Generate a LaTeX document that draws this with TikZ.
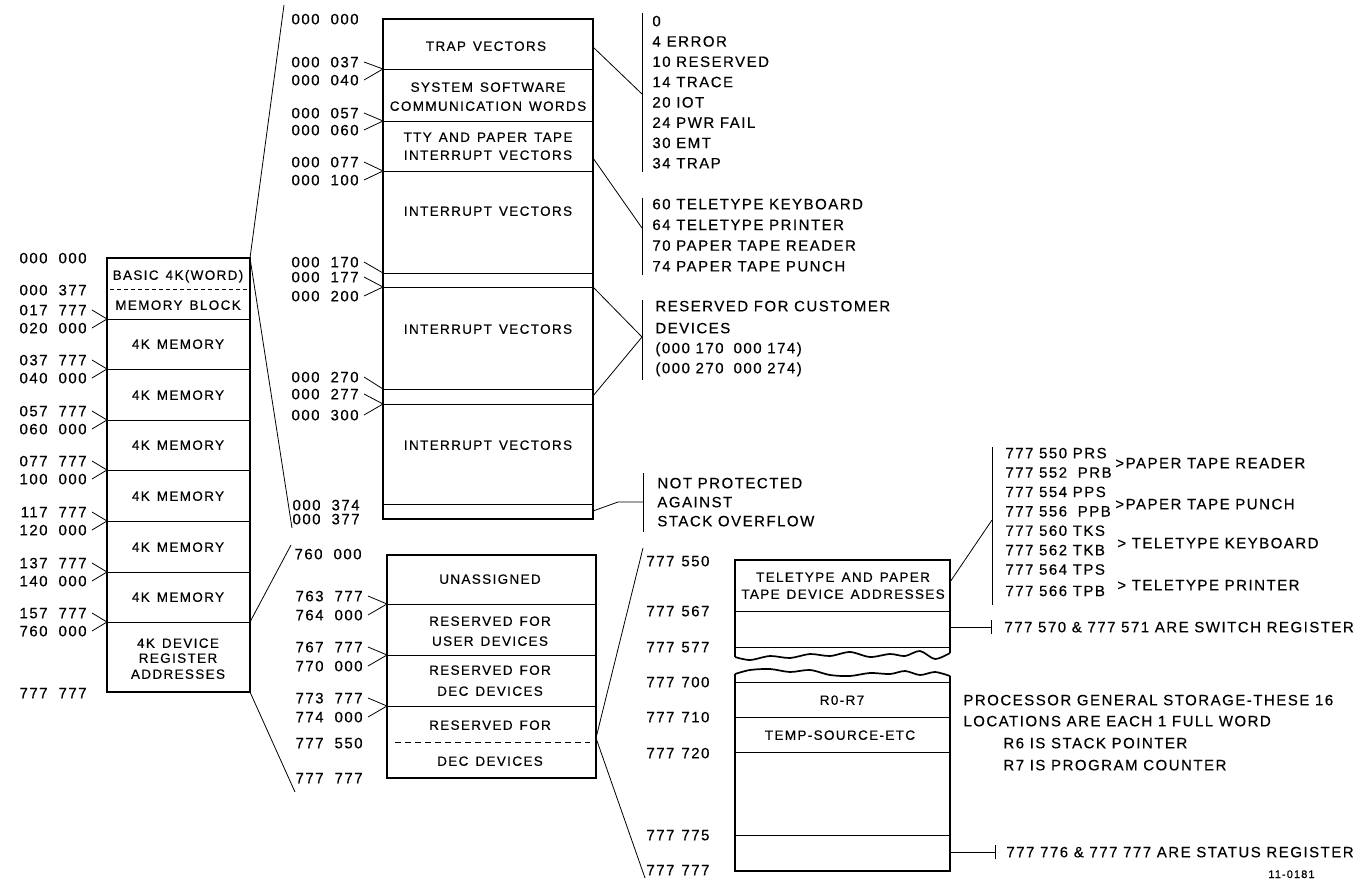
\documentclass[tikz,border=0pt]{standalone}
\usepackage{fontspec}
\setmainfont[LetterSpace=10,FakeBold=0.4]{Liberation Sans}

\begin{document}
\begin{tikzpicture}[x=1pt, y=-1pt, line width=0.8pt]
    \tikzstyle{frame}=[line width=1.7pt]
    \tikzstyle{cell}=[inner sep=0pt, text height=9.6pt, text depth=0pt, font=\fontsize{13.5}{16}\selectfont, execute at begin node={\spaceskip=7pt\relax}]
    \tikzstyle{addr}=[inner sep=0pt, text height=10.6pt, text depth=0pt, anchor=east, font=\fontsize{15}{17}\selectfont, execute at begin node={\spaceskip=11pt\relax}]
    \tikzstyle{note}=[inner sep=0pt, text height=10.6pt, text depth=0pt, anchor=west, font=\fontsize{15}{17}\selectfont]
    \useasboundingbox (0,0) rectangle (1368,881);

    % main memory
    \coordinate (mem nw) at (107,258);
    \coordinate (mem ne) at (250,258);
    \coordinate (mem dev) at (250,622);
    \coordinate (mem se) at (250,692);
    \draw[frame] (mem nw) rectangle (mem se);
    \foreach \y in {319,369,420,470,521,572,622}
        \draw (107,\y) -- (250,\y);
    \draw[dash pattern=on 4pt off 3pt] (110,289) -- (247,289);
    \node[cell] (basic) at (178,275) {BASIC 4K(WORD)};
    \node[cell] (block) at (178,305) {MEMORY BLOCK};
    \foreach \y [count=\i] in {344,395,445,496,547,597}
        \node[cell] (four\i) at (178,\y) {4K MEMORY};
    \node[cell] (dev1) at (178,643) {4K DEVICE};
    \node[cell] (dev2) at (178,658) {REGISTER};
    \node[cell] (dev3) at (178,674) {ADDRESSES};

    \node[addr] (m0) at (87,258) {000 000};
    \node[addr] (m1) at (87,290) {000 377};
    \node[addr] (m9) at (87,693) {777 777};
    \foreach \y/\a/\b [count=\i] in {319/017 777/020 000, 369/037 777/040 000,
            420/057 777/060 000, 470/077 777/100 000, 521/117 777/120 000,
            572/137 777/140 000, 622/157 777/760 000} {
        \coordinate (ms\i) at (107,\y);
        \node[addr] (mu\i) at (87,\y-9) {\a};
        \node[addr] (md\i) at (87,\y+9) {\b};
        \draw ([xshift=5pt]mu\i.east) -- (ms\i);
        \draw ([xshift=5pt]md\i.east) -- (ms\i);
    }

    % low memory: vectors
    \draw[frame] (383,19) rectangle (593,519);
    \foreach \y in {69,121,171,273,287,389,404,504}
        \draw (383,\y) -- (593,\y);
    \node[cell] (trapv) at (486,46) {TRAP VECTORS};
    \node[cell] (sys1) at (488,87) {SYSTEM SOFTWARE};
    \node[cell] (sys2) at (488,106) {COMMUNICATION WORDS};
    \node[cell] (tty1) at (488,137) {TTY AND PAPER TAPE};
    \node[cell] (tty2) at (488,155) {INTERRUPT VECTORS};
    \node[cell] (int1) at (488,211) {INTERRUPT VECTORS};
    \node[cell] (int2) at (488,329) {INTERRUPT VECTORS};
    \node[cell] (int3) at (488,445) {INTERRUPT VECTORS};

    \node[addr] (v0) at (359,19) {000 000};
    \foreach \s/\u/\d/\a/\b [count=\i] in {69/62/80/000 037/000 040,
            121/113/130/000 057/000 060, 171/162/180/000 077/000 100,
            287/277/296/000 177/000 200, 404/394/415/000 277/000 300} {
        \coordinate (vs\i) at (383,\s);
        \node[addr] (vu\i) at (359,\u) {\a};
        \node[addr] (vd\i) at (359,\d) {\b};
        \draw ([xshift=5pt]vu\i.east) -- (vs\i);
        \draw ([xshift=5pt]vd\i.east) -- (vs\i);
    }
    \coordinate (vs6) at (383,273);
    \coordinate (vs7) at (383,389);
    \node[addr] (v170) at (359,262) {000 170};
    \node[addr] (v270) at (359,377) {000 270};
    \draw ([xshift=5pt]v170.east) -- (vs6);
    \draw ([xshift=5pt]v270.east) -- (vs7);
    \node[addr] (v374) at (360,505) {000 374};
    \node[addr] (v377) at (360,519) {000 377};
    \node[addr] (h0) at (362,554) {760 000};

    \coordinate (lo top) at (284,5);
    \coordinate (lo bot) at (292,528);
    \coordinate (hi top) at (291,545);
    \coordinate (hi bot) at (295,792);
    \draw (mem ne) -- (lo top);
    \draw (mem ne) -- (lo bot);
    \draw (mem dev) -- (hi top);
    \draw (mem se) -- (hi bot);

    % notes on the vectors
    \draw (642,13) -- (642,172);
    \draw (593,47) -- (642,94);
    \foreach \t [count=\i] in {0, 4\hspace{6pt}ERROR, 10 RESERVED, 14 TRACE,
            20 IOT, 24 PWR FAIL, 30 EMT, 34 TRAP}
        \node[note] (trap\i) at (652,21+20.3*\i-20.3) {\t};
    \draw (642,198) -- (642,275);
    \draw (593,158) -- (642,228);
    \foreach \t [count=\i] in {60 TELETYPE KEYBOARD, 64 TELETYPE PRINTER,
            70 PAPER TAPE READER, 74 PAPER TAPE PUNCH}
        \node[note] (tty\i) at (652,204+20.7*\i-20.7) {\t};
    \draw (642,300) -- (642,380);
    \draw (593,287) -- (642,337) -- (593,396);
    \node[note] (cust1) at (655,306) {RESERVED FOR CUSTOMER};
    \node[note] (cust2) at (655,328) {DEVICES};
    \node[note] (cust3) at (655,348) {(000 170\hspace{10pt}000 174)};
    \node[note] (cust4) at (655,368) {(000 270\hspace{10pt}000 274)};
    \draw (643,473) -- (643,532);
    \draw (593,511) -- (618,502) -- (643,502);
    \node[note] (stk1) at (657,483) {NOT PROTECTED};
    \node[note] (stk2) at (657,502) {AGAINST};
    \node[note] (stk3) at (657,521) {STACK OVERFLOW};

    % high memory: device registers
    \draw[frame] (387,555) rectangle (596,778);
    \foreach \y in {604,655,706}
        \draw (387,\y) -- (596,\y);
    \draw[dash pattern=on 6pt off 4pt] (395,742) -- (590,742);
    \node[cell] (unas) at (490,579) {UNASSIGNED};
    \node[cell] (usr1) at (490,621) {RESERVED FOR};
    \node[cell] (usr2) at (490,641) {USER DEVICES};
    \node[cell] (dec1) at (490,670) {RESERVED FOR};
    \node[cell] (dec2) at (490,691) {DEC DEVICES};
    \node[cell] (dec3) at (490,725) {RESERVED FOR};
    \node[cell] (dec4) at (490,761) {DEC DEVICES};
    \foreach \s/\a/\b [count=\i] in {604/763 777/764 000, 655/767 777/770 000,
            706/773 777/774 000} {
        \coordinate (hs\i) at (387,\s);
        \node[addr] (hu\i) at (363,\s-8) {\a};
        \node[addr] (hd\i) at (363,\s+11) {\b};
        \draw ([xshift=5pt]hu\i.east) -- (hs\i);
        \draw ([xshift=5pt]hd\i.east) -- (hs\i);
    }
    \node[addr] (h550) at (363,743) {777 550};
    \node[addr] (h777) at (363,778) {777 777};

    \coordinate (top top) at (643,548);
    \coordinate (top bot) at (645,878);
    \coordinate (dec e) at (596,738);
    \draw (dec e) -- (top top);
    \draw (dec e) -- (top bot);

    % top of memory
    \foreach \y/\t [count=\i] in {561/777 550, 611/777 567, 647/777 577, 682/777 700,
            717/777 710, 753/777 720, 835/777 775, 870/777 777}
        \node[addr, anchor=west, execute at begin node={\spaceskip=7pt\relax}] (t\i) at (646,\y) {\t};
    \draw[frame] plot[smooth] coordinates {(735,657) (750,660) (770,656) (790,658)
            (810,654) (830,656) (850,652) (870,657) (890,654) (905,656) (920,651)
            (935,659) (950,653)};
    \draw[frame] (735,657) -- (735,560) -- (950,560) -- (950,653);
    \draw[frame] plot[smooth] coordinates {(735,674) (750,670) (770,669) (790,672)
            (810,670) (830,675) (850,676) (870,673) (890,674) (905,671) (920,675)
            (935,672) (950,676)};
    \draw[frame] (735,674) -- (735,871) -- (950,871) -- (950,676);
    \foreach \y in {611,647,682,717,752,835}
        \draw (735,\y) -- (950,\y);
    \node[cell] (tt1) at (843,577) {TELETYPE AND PAPER};
    \node[cell] (tt2) at (843,594) {TAPE DEVICE ADDRESSES};
    \node[cell] (regs) at (842,700) {R0-R7};
    \node[cell] (temp) at (840,735) {TEMP-SOURCE-ETC};

    \draw (992,447) -- (992,605);
    \draw (950,582) -- (992,520);
    \foreach \t [count=\i] in {777 550 PRS, 777 552\hspace{5pt} PRB, 777 554 PPS,
            777 556\hspace{5pt} PPB, 777 560 TKS, 777 562 TKB, 777 564 TPS, 777 566 TPB}
        \node[note] (reg\i) at (1005,{\i*19.4+433.6+(\i>7)*2}) {\t};
    \node[note] (ptr) at (1115,463) {>PAPER TAPE READER};
    \node[note] (ptp) at (1115,504) {>PAPER TAPE PUNCH};
    \node[note] (tkb) at (1117,543) {> TELETYPE KEYBOARD};
    \node[note] (tpr) at (1117,585) {> TELETYPE PRINTER};

    \coordinate (sw) at (991,627);
    \draw (950,627) -- (sw);
    \draw ([yshift=-7pt]sw) -- ([yshift=7pt]sw);
    \node[note] (swr) at (1004,627) {777 570 \& 777 571 ARE SWITCH REGISTER};
    \node[note] (pg1) at (963,700) {PROCESSOR GENERAL STORAGE-THESE 16};
    \node[note] (pg2) at (963,721) {LOCATIONS ARE EACH 1 FULL WORD};
    \node[note] (r6) at (1003,743) {R6 IS STACK POINTER};
    \node[note] (r7) at (1003,765) {R7 IS PROGRAM COUNTER};
    \coordinate (st) at (995,852);
    \draw (950,852) -- (st);
    \draw ([yshift=-7pt]st) -- ([yshift=7pt]st);
    \node[note] (str) at (1006,852) {777 776 \& 777 777 ARE STATUS REGISTER};
    \node[note, text height=8pt, font=\fontsize{11}{13}\selectfont] (fig) at (1268,874) {11-0181};
\end{tikzpicture}
\end{document}
